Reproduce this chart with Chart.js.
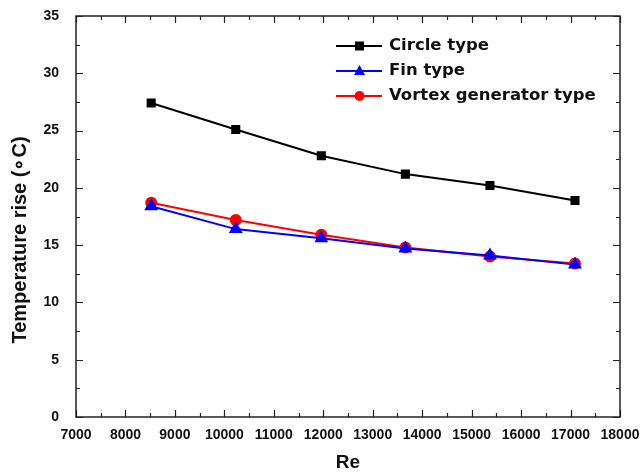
<!DOCTYPE html>
<html><head><meta charset="utf-8">
<script src="https://cdn.jsdelivr.net/npm/chart.js@4.4.0/dist/chart.umd.min.js"></script>
<style>html,body{margin:0;padding:0;background:#fff}#wrap{width:642px;height:475px}</style>
</head><body><div id="wrap"><canvas id="c" width="642" height="475"></canvas></div>
<script>
const reynolds = [8520, 10230, 11960, 13660, 15370, 17090];
const circleType = [27.4, 25.1, 22.8, 21.2, 20.2, 18.9];
const finType = [18.4, 16.4, 15.6, 14.7, 14.1, 13.3];
const vortexType = [18.7, 17.2, 15.9, 14.8, 14.0, 13.4];
const seriesNames = ['Circle type', 'Fin type', 'Vortex generator type'];
const xTicks = [7000, 8000, 9000, 10000, 11000, 12000, 13000, 14000, 15000, 16000, 17000, 18000];
const yTicks = [0, 5, 10, 15, 20, 25, 30, 35];
const yTitle = 'Temperature rise (\u2218C)';
const xTitle = 'Re';

const FONT = "'Liberation Sans', Arial, sans-serif";
const LFONT = "'DejaVu Sans', sans-serif";
const pts = arr => arr.map((v, i) => ({x: reynolds[i], y: v}));

const frame = {
  id: 'frame',
  afterDatasetsDraw(chart) {
    const {ctx, chartArea: a, scales: {x, y}} = chart;
    ctx.save();
    ctx.strokeStyle = '#222';
    ctx.lineWidth = 1.5;
    ctx.strokeRect(a.left, a.top, a.right - a.left, a.bottom - a.top);
    ctx.lineWidth = 1.2;
    ctx.beginPath();
    for (let v = 7000; v <= 18000; v += 500) {
      const px = Math.round(x.getPixelForValue(v)) + 0.5;
      const L = (v % 1000 === 0) ? 7 : 4;
      ctx.moveTo(px, a.bottom); ctx.lineTo(px, a.bottom - L);
      ctx.moveTo(px, a.top); ctx.lineTo(px, a.top + L);
    }
    for (let v = 0; v <= 35; v += 2.5) {
      const py = Math.round(y.getPixelForValue(v)) + 0.5;
      const L = (v % 5 === 0) ? 7 : 4;
      ctx.moveTo(a.left, py); ctx.lineTo(a.left + L, py);
      ctx.moveTo(a.right, py); ctx.lineTo(a.right - L, py);
    }
    ctx.stroke();
    // y axis title
    ctx.save();
    ctx.translate(20, 240);
    ctx.rotate(-Math.PI / 2);
    ctx.fillStyle = '#111';
    ctx.font = 'bold 20px ' + FONT;
    ctx.textAlign = 'center';
    ctx.textBaseline = 'middle';
    ctx.fillText(yTitle, 0, 0);
    ctx.restore();
    // legend
    const ds = chart.data.datasets;
    const rows = [46, 71, 96];
    ds.forEach((d, i) => {
      const yy = rows[i];
      ctx.strokeStyle = d.borderColor;
      ctx.lineWidth = 2;
      ctx.beginPath(); ctx.moveTo(336, yy); ctx.lineTo(382, yy); ctx.stroke();
      ctx.fillStyle = d.pointBackgroundColor;
      if (d.pointStyle === 'rect') { ctx.fillRect(355, yy - 4.5, 9, 9); }
      else if (d.pointStyle === 'triangle') { ctx.beginPath(); ctx.moveTo(359.5, yy - 6); ctx.lineTo(365, yy + 4); ctx.lineTo(354, yy + 4); ctx.closePath(); ctx.fill(); }
      else { ctx.beginPath(); ctx.arc(359.5, yy, 5, 0, Math.PI * 2); ctx.fill(); }
      ctx.fillStyle = '#111';
      ctx.font = 'bold 16.5px ' + LFONT;
      ctx.textBaseline = 'middle';
      ctx.textAlign = 'left';
      ctx.fillText(d.label, 389, yy);
    });
    ctx.restore();
  }
};

new Chart(document.getElementById('c'), {
  type: 'line',
  data: {
    datasets: [
      {label: seriesNames[0], data: pts(circleType), borderColor: '#000', backgroundColor: '#000', pointBackgroundColor: '#000', pointBorderColor: '#000', pointStyle: 'rect', pointRadius: 5, borderWidth: 2},
      {label: seriesNames[1], data: pts(finType), borderColor: '#0000ff', backgroundColor: '#0000ff', pointBackgroundColor: '#0000ff', pointBorderColor: '#0000ff', pointStyle: 'triangle', pointRadius: 6, borderWidth: 2},
      {label: seriesNames[2], data: pts(vortexType), borderColor: '#ff0000', backgroundColor: '#ff0000', pointBackgroundColor: '#ff0000', pointBorderColor: '#ff0000', pointStyle: 'circle', pointRadius: 5, borderWidth: 2}
    ]
  },
  options: {
    responsive: false,
    animation: false,
    layout: {padding: {top: 16, right: 22, left: 0, bottom: 0}},
    plugins: {legend: {display: false}, tooltip: {enabled: false}},
    scales: {
      x: {
        type: 'linear', min: 7000, max: 18000,
        afterFit: s => { s.height = 58; s.paddingLeft = 0; s.paddingRight = 0; },
        afterBuildTicks: s => { s.ticks = xTicks.map(v => ({value: v})); },
        grid: {display: false},
        border: {display: false},
        ticks: {padding: 2, color: '#111', font: {family: FONT, size: 14, weight: 'bold'}, maxRotation: 0, autoSkip: false, callback: v => String(v)},
        title: {display: true, text: xTitle, color: '#111', font: {family: FONT, size: 19, weight: 'bold'}, padding: {top: 2, bottom: 1}}
      },
      y: {
        type: 'linear', min: 0, max: 35,
        afterFit: s => { s.width = 76; s.paddingTop = 0; s.paddingBottom = 0; },
        afterBuildTicks: s => { s.ticks = yTicks.map(v => ({value: v})); },
        grid: {display: false},
        border: {display: false},
        ticks: {padding: 9, color: '#111', font: {family: FONT, size: 14, weight: 'bold'}, callback: v => String(v)}
      }
    }
  },
  plugins: [frame]
});
</script></body></html>
